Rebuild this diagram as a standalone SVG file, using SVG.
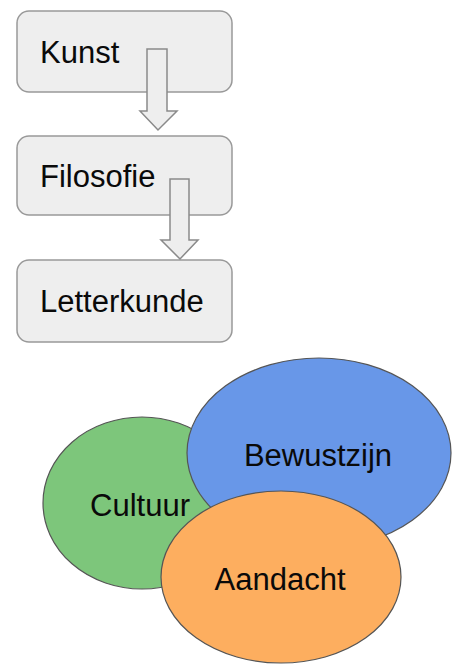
<svg xmlns="http://www.w3.org/2000/svg" width="459" height="665" viewBox="0 0 459 665">
<style>
.box{fill:#eeeeee;stroke:#999999;stroke-width:1.5}
.arrow{fill:#eeeeee;stroke:#8a8a8a;stroke-width:1.5;stroke-linejoin:miter}
.t{font-family:"Liberation Sans",Arial,sans-serif;font-size:31px;fill:#0a0a0a}
.ell{stroke:#555555;stroke-width:1.2}
</style>
<rect width="459" height="665" fill="#ffffff"/>
<g id="node-kunst">
<rect class="box" x="17" y="11" width="215" height="81" rx="12"/>
<text class="t" x="40" y="63">Kunst</text>
</g>
<g id="node-filosofie">
<rect class="box" x="17" y="136" width="215" height="79" rx="12"/>
<text class="t" x="40" y="187">Filosofie</text>
</g>
<g id="node-letterkunde">
<rect class="box" x="17" y="260" width="215" height="82" rx="12"/>
<text class="t" x="40" y="312">Letterkunde</text>
</g>
<g id="connectors">
<path class="arrow" d="M147,49 H167 V111 H177 L158,130 L140,111 H147 Z"/>
<path class="arrow" d="M170,179 H189 V240 H198 L180,259 L161,240 H170 Z"/>
</g>
<g id="node-cultuur">
<ellipse class="ell" cx="142" cy="503" rx="99" ry="86" fill="#7dc67b"/>
<text class="t" x="140" y="516" text-anchor="middle">Cultuur</text>
</g>
<g id="node-bewustzijn">
<ellipse class="ell" cx="319" cy="453" rx="132" ry="95" fill="#6897e8"/>
<text class="t" x="318" y="466" text-anchor="middle">Bewustzijn</text>
</g>
<g id="node-aandacht">
<ellipse class="ell" cx="281" cy="577" rx="120" ry="86" fill="#fdae5f"/>
<text class="t" x="280" y="590" text-anchor="middle">Aandacht</text>
</g>
</svg>
